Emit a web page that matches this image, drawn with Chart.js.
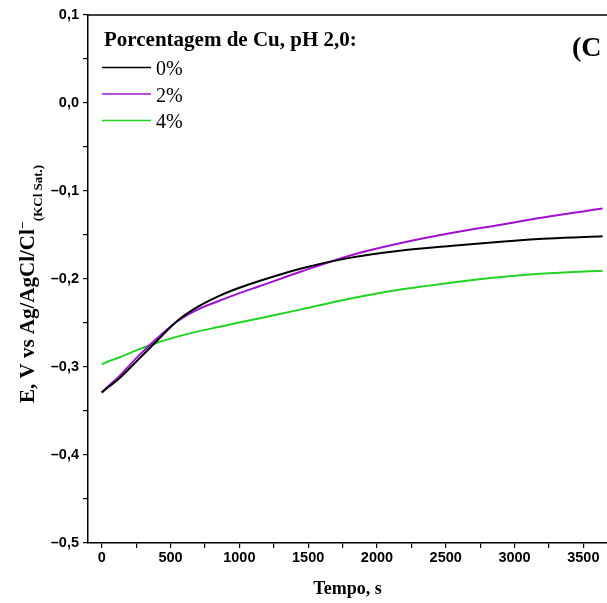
<!DOCTYPE html>
<html>
<head>
<meta charset="utf-8">
<script src="https://cdn.jsdelivr.net/npm/chart.js@4/dist/chart.umd.min.js"></script>
<style>
  html, body { margin: 0; padding: 0; background: #fff; overflow: hidden; }
  canvas { display: block; }
</style>
</head>
<body>
<canvas id="ocp" width="607" height="603"></canvas>
<script>
// tempo (s)
var tempo = [0, 50, 120, 260, 400, 550, 700, 850, 1000, 1150, 1450, 1800, 2150, 2550, 2900, 3250, 3640];
// E, V vs Ag/AgCl
var cu0 = [-0.329, -0.3225, -0.314, -0.2925, -0.2705, -0.2475, -0.2315, -0.2195, -0.2100, -0.2020, -0.1880, -0.1760, -0.1682, -0.1622, -0.1576, -0.1540, -0.1515];
var cu2 = [-0.329, -0.3215, -0.3115, -0.2885, -0.2675, -0.2480, -0.2345, -0.2250, -0.2160, -0.2080, -0.1915, -0.1735, -0.1600, -0.1475, -0.1383, -0.1290, -0.1200];
var cu4 = [-0.297, -0.2935, -0.2895, -0.2805, -0.2725, -0.2655, -0.2595, -0.2545, -0.2495, -0.2445, -0.2345, -0.2225, -0.2125, -0.2040, -0.1978, -0.1935, -0.1905];
var labels = ['0%', '2%', '4%'];
var colors = ['#000000', '#a010d0', '#22d422'];
var xTicks = [0, 500, 1000, 1500, 2000, 2500, 3000, 3500];
var yTicks = [0.1, 0.0, -0.1, -0.2, -0.3, -0.4, -0.5];

var serie = [cu0, cu2, cu4];
var datasets = serie.map(function (s, i) {
    return {
        label: labels[i],
        data: s.map(function (v, j) { return { x: tempo[j], y: v }; }),
        borderColor: colors[i],
        borderWidth: 2,
        pointRadius: 0,
        fill: false,
        cubicInterpolationMode: 'monotone'
    };
});

function fmt(v) {
    var r = Math.round(v * 10) / 10;
    var s = Math.abs(r).toFixed(1).replace('.', ',');
    return r < 0 ? '\u2013' + s : s;
}

var serif = '"Liberation Serif", "Times New Roman", serif';

var extras = {
    id: 'extras',
    afterDraw: function (chart) {
        var ctx = chart.ctx;
        var a = chart.chartArea;
        ctx.save();
        // linha de cima da moldura
        ctx.strokeStyle = '#000';
        ctx.lineWidth = 1.5;
        ctx.beginPath();
        ctx.moveTo(a.left, a.top);
        ctx.lineTo(a.right, a.top);
        ctx.stroke();

        // legenda
        ctx.fillStyle = '#000';
        ctx.textBaseline = 'alphabetic';
        ctx.textAlign = 'left';
        ctx.font = 'bold 21px ' + serif;
        ctx.fillText('Porcentagem de Cu, pH 2,0:', 104, 46);
        ctx.font = '20px ' + serif;
        var ys = [67.5, 94, 120.5];
        chart.data.datasets.forEach(function (d, i) {
            ctx.strokeStyle = d.borderColor;
            ctx.lineWidth = 1.6;
            ctx.beginPath();
            ctx.moveTo(102, ys[i]);
            ctx.lineTo(151, ys[i]);
            ctx.stroke();
            ctx.fillText(d.label, 156, ys[i] + 7.5);
        });

        ctx.font = 'bold 28px ' + serif;
        ctx.fillText('(C', 572, 56);

        // titulo do eixo y
        ctx.rotate(-Math.PI / 2);
        var main = 'E, V vs Ag/AgCl/Cl';
        ctx.font = 'bold 21px ' + serif;
        var w = ctx.measureText(main).width;
        ctx.fillText(main, -403, 34);
        var pos = -403 + w;
        ctx.font = 'bold 13px ' + serif;
        ctx.fillText('\u2013', pos + 1, 25);
        ctx.fillText('(KCl Sat.)', pos + 8, 42);
        ctx.restore();
    }
};

new Chart(document.getElementById('ocp').getContext('2d'), {
    type: 'line',
    data: { datasets: datasets },
    options: {
        responsive: false,
        animation: false,
        devicePixelRatio: 1,
        layout: { padding: { top: 15, right: 0, left: 0, bottom: 0 } },
        plugins: { legend: { display: false }, tooltip: { enabled: false } },
        scales: {
            x: {
                type: 'linear',
                min: -100,
                max: 3672,
                afterFit: function (s) { s.height = 60; },
                afterBuildTicks: function (s) {
                    var t = [];
                    for (var v = 0; v <= s.max; v += 250) t.push({ value: v });
                    s.ticks = t;
                },
                ticks: {
                    autoSkip: false,
                    maxRotation: 0,
                    padding: 1,
                    color: '#000',
                    font: { family: '"Liberation Sans", Arial, sans-serif', size: 14.5, weight: 'bold' },
                    callback: function (v) { return xTicks.indexOf(Math.round(v)) >= 0 ? String(Math.round(v)) : ''; }
                },
                grid: { drawOnChartArea: false, drawTicks: true, tickLength: 5, color: '#000', lineWidth: 1.2 },
                border: { display: true, color: '#000', width: 1.5 },
                title: {
                    display: true,
                    text: 'Tempo, s',
                    color: '#000',
                    padding: { top: 0, bottom: 3 },
                    font: { family: serif, size: 18, weight: 'bold' }
                }
            },
            y: {
                type: 'linear',
                min: -0.5,
                max: 0.1,
                afterFit: function (s) { s.width = 88; },
                ticks: {
                    stepSize: 0.05,
                    autoSkip: false,
                    padding: 4,
                    color: '#000',
                    font: { family: '"Liberation Sans", Arial, sans-serif', size: 14.5, weight: 'bold' },
                    callback: function (v) {
                        var k = Math.round(v * 100);
                        if (k % 10 !== 0) return '';
                        var r = k / 100;
                        for (var i = 0; i < yTicks.length; i++) {
                            if (Math.abs(yTicks[i] - r) < 1e-9) return fmt(r);
                        }
                        return '';
                    }
                },
                grid: { drawOnChartArea: false, drawTicks: true, tickLength: 5, color: '#000', lineWidth: 1.2 },
                border: { display: true, color: '#000', width: 1.5 }
            }
        }
    },
    plugins: [extras]
});
</script>
</body>
</html>
